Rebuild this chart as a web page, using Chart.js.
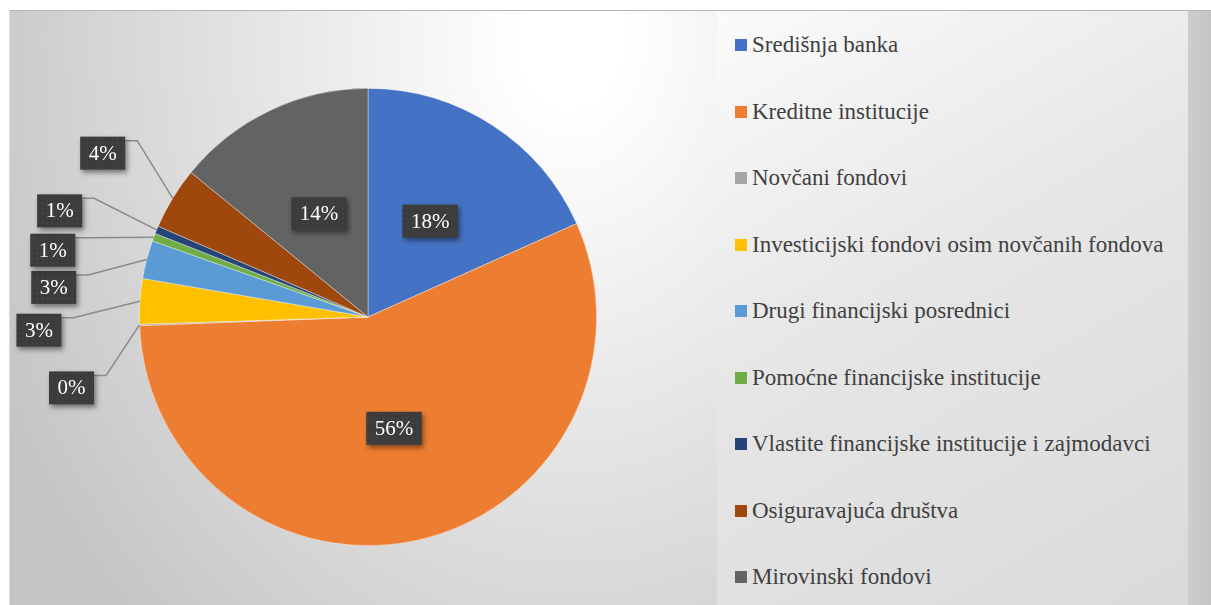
<!DOCTYPE html>
<html>
<head>
<meta charset="utf-8">
<script src="https://cdn.jsdelivr.net/npm/chart.js@4"></script>
<style>
  body { margin: 0; background: #fff; width: 1211px; height: 605px; overflow: hidden; }
  #frame { position: absolute; left: 9px; top: 10px; width: 1202px; height: 595px;
           border-top: 1px solid #b4b4b4; border-left: 1px solid #dcdcdc; }
  #plot { position: absolute; left: 0; top: 0; width: 707px; height: 594px;
          background: radial-gradient(ellipse 640px 820px at 560px 30px, #ffffff 8%, #c4c4c4 100%); }
  #legendBox { position: absolute; left: 707px; top: 0; width: 471px; height: 594px;
               background: linear-gradient(150deg, #fbfbfb 0%, #e6e6e6 45%, #dadada 100%); }
  #strip { position: absolute; left: 1178px; top: 0; width: 24px; height: 594px;
           background: linear-gradient(90deg, #cdcdcd, #c4c4c4); }
  #legend { position: absolute; left: 0; top: 0.75px; }
  .item { height: 66.5px; display: flex; align-items: center; padding-left: 18px;
          font-family: "Liberation Serif", "DejaVu Serif", serif; font-size: 23px; color: #404040;
          white-space: nowrap; }
  .swatch { width: 12px; height: 12px; margin-right: 5px; flex: none; }
</style>
</head>
<body>
<div id="frame">
  <div id="plot"><canvas id="chart" width="707" height="594"></canvas></div>
  <div id="legendBox"><div id="legend"></div></div>
  <div id="strip"></div>
</div>
<script>
// sectors and their shares (%)
const categories = [
  "Središnja banka",
  "Kreditne institucije",
  "Novčani fondovi",
  "Investicijski fondovi osim novčanih fondova",
  "Drugi financijski posrednici",
  "Pomoćne financijske institucije",
  "Vlastite financijske institucije i zajmodavci",
  "Osiguravajuća društva",
  "Mirovinski fondovi"
];
const shares = [18.3, 56.1, 0.1, 3.2, 2.7, 0.55, 0.55, 4.4, 14.1];
const colors = ["#4472C4", "#ED7D31", "#A5A5A5", "#FFC000", "#5B9BD5", "#70AD47", "#264478", "#9E480E", "#636363"];

// where the callout boxes of small slices sit, relative to the slice edge
const calloutOffsets = {
  2: [-68, 63], 3: [-101, 29], 4: [-93, 28], 5: [-101, 13], 6: [-97, -19], 7: [-70, -45]
};

const serif = '"Liberation Serif", "DejaVu Serif", serif';

// legend
const legendEl = document.getElementById("legend");
categories.forEach((c, i) => {
  const row = document.createElement("div");
  row.className = "item";
  row.innerHTML = '<span class="swatch" style="background:' + colors[i] + '"></span>' + c;
  legendEl.appendChild(row);
});

// dotted dark fill for the data labels
const pat = document.createElement("canvas");
pat.width = 5; pat.height = 5;
const pctx = pat.getContext("2d");
pctx.fillStyle = "#3c3c3c"; pctx.fillRect(0, 0, 5, 5);
pctx.fillStyle = "#4c4c4c"; pctx.fillRect(2, 2, 1, 1);

const pieLabels = {
  id: "pieLabels",
  afterDatasetsDraw(chart) {
    const ctx = chart.ctx;
    const meta = chart.getDatasetMeta(0);
    const total = shares.reduce((a, b) => a + b, 0);
    ctx.save();
    ctx.font = "21px " + serif;
    ctx.textAlign = "center";
    ctx.textBaseline = "middle";
    meta.data.forEach((arc, i) => {
      const p = arc.getProps(["x", "y", "startAngle", "endAngle", "outerRadius"], true);
      const mid = (p.startAngle + p.endAngle) / 2;
      const text = Math.round(shares[i] / total * 100) + "%";
      const w = ctx.measureText(text).width + 17;
      const h = 33;
      let cx, cy;
      if (calloutOffsets[i]) {
        const ex = p.x + Math.cos(mid) * p.outerRadius;
        const ey = p.y + Math.sin(mid) * p.outerRadius;
        cx = ex + calloutOffsets[i][0];
        cy = ey + calloutOffsets[i][1];
        const lx = cx + w / 2, ly = cy - h / 2 + 4;
        ctx.strokeStyle = "#8a8a8a";
        ctx.lineWidth = 1.5;
        ctx.beginPath();
        ctx.moveTo(lx, ly);
        ctx.lineTo(lx + 12, ly);
        ctx.lineTo(ex, ey);
        ctx.stroke();
      } else {
        const tp = arc.tooltipPosition(true);
        cx = tp.x; cy = tp.y;
      }
      ctx.save();
      ctx.shadowColor = "rgba(0,0,0,0.45)";
      ctx.shadowBlur = 5;
      ctx.shadowOffsetX = 2;
      ctx.shadowOffsetY = 3;
      ctx.fillStyle = ctx.createPattern(pat, "repeat");
      ctx.fillRect(cx - w / 2, cy - h / 2, w, h);
      ctx.restore();
      ctx.fillStyle = "#ffffff";
      ctx.fillText(text, cx, cy + 1);
    });
    ctx.restore();
  }
};

new Chart(document.getElementById("chart"), {
  type: "pie",
  data: {
    labels: categories,
    datasets: [{
      data: shares,
      backgroundColor: colors,
      borderColor: "rgba(255,255,255,0.5)",
      borderWidth: 0.75
    }]
  },
  options: {
    responsive: false,
    animation: false,
    layout: { padding: { left: 129, right: 120, top: 77, bottom: 59 } },
    plugins: {
      legend: { display: false },
      tooltip: { enabled: false }
    }
  },
  plugins: [pieLabels]
});
</script>
</body>
</html>
